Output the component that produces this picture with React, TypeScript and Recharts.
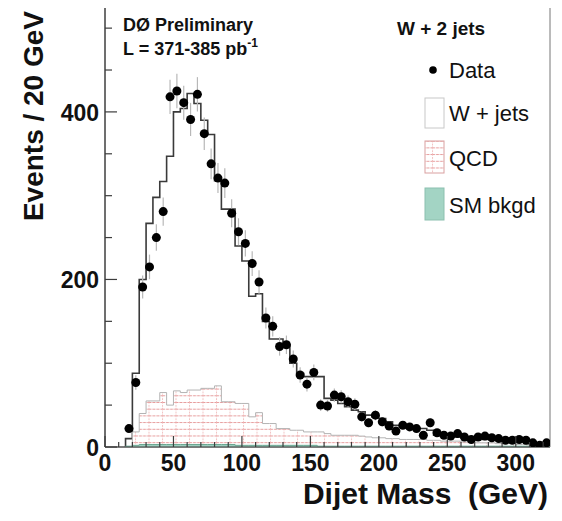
import React from "react";
import { ComposedChart, Area, Scatter, ErrorBar, XAxis, YAxis, ReferenceArea } from "recharts";

// 5 GeV bins from 15 to 325 GeV
const binLow = 15;
const binWidth = 5;

// observed events per bin (bin centres 17.5 ... 322.5)
const dataCounts = [
  22, 77, 191, 215, 250, 281, 418, 425, 411, 391,
  421, 374, 338, 321, 315, 279, 257, 243, 219, 197,
  154, 144, 120, 122, 105, 86, 75, 89, 50, 49,
  62, 60, 54, 51, 36, 29, 38, 30, 25, 19,
  26, 24, 22, 14, 29, 17, 14, 13, 16, 12,
  9, 12, 13, 11, 10, 8, 8, 9, 8, 5,
  2, 5,
];

// W + jets (total stacked prediction)
const wjetsTotal = [
  10, 88, 200, 267, 298, 317, 347, 400, 404, 422,
  410, 390, 373, 318, 284, 284, 240, 222, 180, 183,
  150, 129, 129, 122, 100, 88, 84, 84, 84, 58,
  56, 52, 48, 44, 42, 38, 36, 34, 30, 26,
  24, 23, 22, 22, 20, 14, 13, 12, 12, 11,
  10, 10, 9, 9, 8, 8, 7, 7, 6, 6,
  5, 5,
];

// QCD multijet
const qcd = [
  0, 18, 40, 55, 55, 65, 50, 67, 65, 68,
  68, 70, 70, 73, 54, 54, 52, 52, 36, 41,
  28, 28, 22, 22, 20, 20, 18, 18, 18, 16,
  14, 14, 14, 14, 13, 12, 11, 11, 10, 10,
  9, 9, 9, 9, 8, 8, 7, 7, 7, 6,
  6, 5, 5, 5, 4, 4, 4, 3, 3, 3,
  2, 2,
];

// other SM backgrounds
const smBkgd = [
  1, 2, 3, 3, 3, 3, 3, 3, 3, 3,
  3, 3, 3, 3, 3, 3, 2, 2, 2, 2,
  2, 2, 2, 2, 2, 2, 2, 2, 1, 1,
  1, 1, 1, 1, 1, 1, 1, 1, 1, 1,
  1, 1, 1, 1, 1, 1, 1, 1, 1, 1,
  1, 1, 1, 1, 1, 1, 1, 1, 1, 1,
  1, 1,
];

const xTicks = Array.from({ length: 33 }, (_, i) => i * 10);
const yTicks = [0, 50, 100, 150, 200, 250, 300, 350, 400, 450, 500];
const xLabels = [0, 50, 100, 150, 200, 250, 300];
const yLabels = [0, 200, 400];

const font = "'Liberation Sans', Arial, Helvetica, sans-serif";
const axisColor = "#3c3c3c";

function histRows(values: number[]) {
  const rows = [{ m: binLow, v: 0 }];
  values.forEach((v, i) => rows.push({ m: binLow + i * binWidth, v }));
  rows.push({ m: binLow + values.length * binWidth, v: values[values.length - 1] });
  return rows;
}

const pointRows = dataCounts.map((n, i) => ({
  m: binLow + binWidth / 2 + i * binWidth,
  n,
  err: Math.sqrt(n),
}));

function XTick({ x, y, payload }: any) {
  const v = payload.value;
  const major = xLabels.includes(v);
  return (
    <g>
      <line x1={x} x2={x} y1={y} y2={y - (major ? 11 : 5)} stroke={axisColor} strokeWidth={1.2} />
      {major && (
        <text x={x} y={y + 24} textAnchor="middle" fontFamily={font} fontWeight="bold" fontSize={23} fill="#111">
          {v}
        </text>
      )}
    </g>
  );
}

function YTick({ x, y, payload }: any) {
  const v = payload.value;
  const major = yLabels.includes(v);
  return (
    <g>
      <line x1={x} x2={x + (major ? 12 : 7)} y1={y} y2={y} stroke={axisColor} strokeWidth={1.2} />
      {major && (
        <text x={x - 6} y={y + 9} textAnchor="end" fontFamily={font} fontWeight="bold" fontSize={23} fill="#111">
          {v}
        </text>
      )}
    </g>
  );
}

const dataDot = (props: any) => <circle cx={props.cx} cy={props.cy} r={4.5} fill="#000" />;

export default function App() {
  return (
    <div style={{ position: "relative", width: 562, height: 521, margin: -8, background: "#fff" }}>
      <svg width={562} height={521} style={{ position: "absolute", left: 0, top: 0 }}>
        <defs>
          <pattern id="qcdHatch" patternUnits="userSpaceOnUse" width="13.5" height="6.7">
            <rect width="13.5" height="6.7" fill="#fff" />
            <line x1="0" y1="0.5" x2="13.5" y2="0.5" stroke="#e69a9a" strokeWidth="1" strokeDasharray="3 1" />
            <line x1="0.5" y1="0" x2="0.5" y2="6.7" stroke="#eeb0b0" strokeWidth="1" strokeDasharray="1.5 1.5" />
          </pattern>
        </defs>
      </svg>
      <div style={{ position: "absolute", left: 0, top: 0 }}>
        <ComposedChart width={562} height={521} margin={{ top: 3, right: 12, bottom: 0, left: 0 }}>
          <XAxis
            type="number"
            dataKey="m"
            domain={[0, 325]}
            allowDataOverflow
            ticks={xTicks}
            interval={0}
            height={74}
            tickSize={0}
            tickMargin={0}
            tickLine={false}
            axisLine={{ stroke: axisColor, strokeWidth: 1.2 }}
            tick={<XTick />}
          />
          <YAxis
            type="number"
            domain={[0, 530]}
            allowDataOverflow
            ticks={yTicks}
            interval={0}
            width={105}
            tickSize={0}
            tickMargin={0}
            tickLine={false}
            axisLine={{ stroke: axisColor, strokeWidth: 1.2 }}
            tick={<YTick />}
          />
          <ReferenceArea x1={0} x2={325} y1={0} y2={530} fill="none" stroke="#777" strokeWidth={1} />
          <Area
            data={histRows(wjetsTotal)}
            dataKey="v"
            type="stepAfter"
            stroke="#3a3a3a"
            strokeWidth={1.6}
            fill="none"
            dot={false}
            activeDot={false}
            isAnimationActive={false}
          />
          <Area
            data={histRows(qcd)}
            dataKey="v"
            type="stepAfter"
            stroke="#b4b4b4"
            strokeWidth={1}
            fill="url(#qcdHatch)"
            fillOpacity={1}
            dot={false}
            activeDot={false}
            isAnimationActive={false}
          />
          <Area
            data={histRows(smBkgd)}
            dataKey="v"
            type="stepAfter"
            stroke="#6aa792"
            strokeWidth={1}
            fill="#9dcfbf"
            fillOpacity={1}
            dot={false}
            activeDot={false}
            isAnimationActive={false}
          />
          <Scatter data={pointRows} dataKey="n" fill="#000" shape={dataDot} isAnimationActive={false}>
            <ErrorBar dataKey="err" direction="y" width={0} stroke="#b8b8b8" strokeWidth={1.2} />
          </Scatter>
        </ComposedChart>
      </div>
      <svg width={562} height={521} style={{ position: "absolute", left: 0, top: 0, pointerEvents: "none" }} fontFamily={font}>
        <text transform="translate(43,11) rotate(-90)" textAnchor="end" fontSize={28} fontWeight="bold" fill="#111">
          Events / 20 GeV
        </text>
        <text x={548} y={504} textAnchor="end" fontSize={30} fontWeight="bold" fill="#111" xmlSpace="preserve">
          Dijet Mass  (GeV)
        </text>
        <text x={123} y={31} fontSize={18} fontWeight="bold" fill="#111">
          DØ Preliminary
        </text>
        <text x={123} y={55} fontSize={18} fontWeight="bold" fill="#111">
          L = 371-385 pb<tspan fontSize={12} dy={-8}>-1</tspan>
        </text>
        <text x={397} y={35} fontSize={19} fontWeight="bold" fill="#111">
          W + 2 jets
        </text>
        <circle cx={433} cy={70} r={3.8} fill="#000" />
        <text x={449} y={78} fontSize={22} fill="#111">Data</text>
        <rect x={425} y={98} width={19} height={30} fill="#fff" stroke="#c8c8c8" strokeWidth={1} />
        <text x={449} y={121} fontSize={22} fill="#111">W + jets</text>
        <rect x={425} y={141} width={19} height={32} fill="url(#qcdHatch)" stroke="#d9a0a0" strokeWidth={1} />
        <text x={449} y={166} fontSize={22} fill="#111">QCD</text>
        <rect x={425} y={188} width={19} height={32} fill="#a3d4c4" stroke="#8cc0af" strokeWidth={1} />
        <text x={449} y={213} fontSize={22} fill="#111">SM bkgd</text>
      </svg>
    </div>
  );
}
